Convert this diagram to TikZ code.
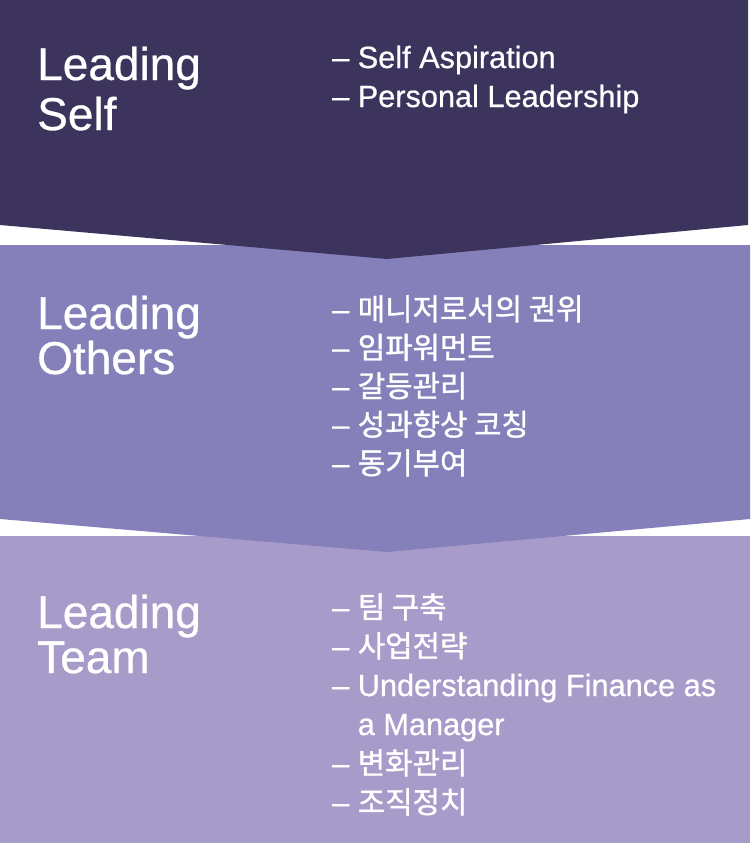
\documentclass[tikz,border=0pt]{standalone}
\usepackage{fontspec}
\setmainfont{Liberation Sans}[FakeBold=0.6]
\newfontfamily\kr{Noto Sans CJK KR}[Scale=0.97, FakeBold=1.2]
\definecolor{selfcol}{HTML}{3D345E}
\definecolor{otherscol}{HTML}{8580BA}
\definecolor{teamcol}{HTML}{A79BC9}
\tikzset{
  title/.style={anchor=base west, inner sep=0, text=white, align=left, font=\fontsize{46}{45}\selectfont},
  items/.style={anchor=base west, inner sep=0, text=white, align=left, font=\fontsize{30.7}{39}\selectfont},
}
\begin{document}
\begin{tikzpicture}[x=1pt,y=-1pt]
    \useasboundingbox (0,0) rectangle (750,843);

    % three bands, the upper one points down into the next
    \fill[teamcol] (0,536) rectangle (750,843);
    \fill[otherscol] (0,245) -- (750,245) -- (750,519) -- (387,552) -- (0,519) -- cycle;
    \fill[selfcol] (0,0) -- (748,0) -- (748,225) -- (387,259) -- (0,225) -- cycle;

    % node anchors sit on the baseline of the last line
    \node[title, font=\fontsize{46}{50}\selectfont] (self) at (37,130) {Leading\\Self};
    \node[items] (selflist) at (332,107) {– Self Aspiration\\– Personal Leadership};

    \node[title] (others) at (37,374) {Leading\\Others};
    \node[items, font=\fontsize{30.7}{38.5}\selectfont] (otherslist) at (332,474)
        {– {\kr 매니저로서의 권위}\\– {\kr 임파워먼트}\\– {\kr 갈등관리}\\– {\kr 성과향상 코칭}\\– {\kr 동기부여}};

    \node[title] (team) at (37,673) {Leading\\Team};
    \node[items] (teamlist) at (332,813)
        {– {\kr 팀 구축}\\– {\kr 사업전략}\\– Understanding Finance as\\\hphantom{– }a Manager\\– {\kr 변화관리}\\– {\kr 조직정치}};
\end{tikzpicture}
\end{document}
